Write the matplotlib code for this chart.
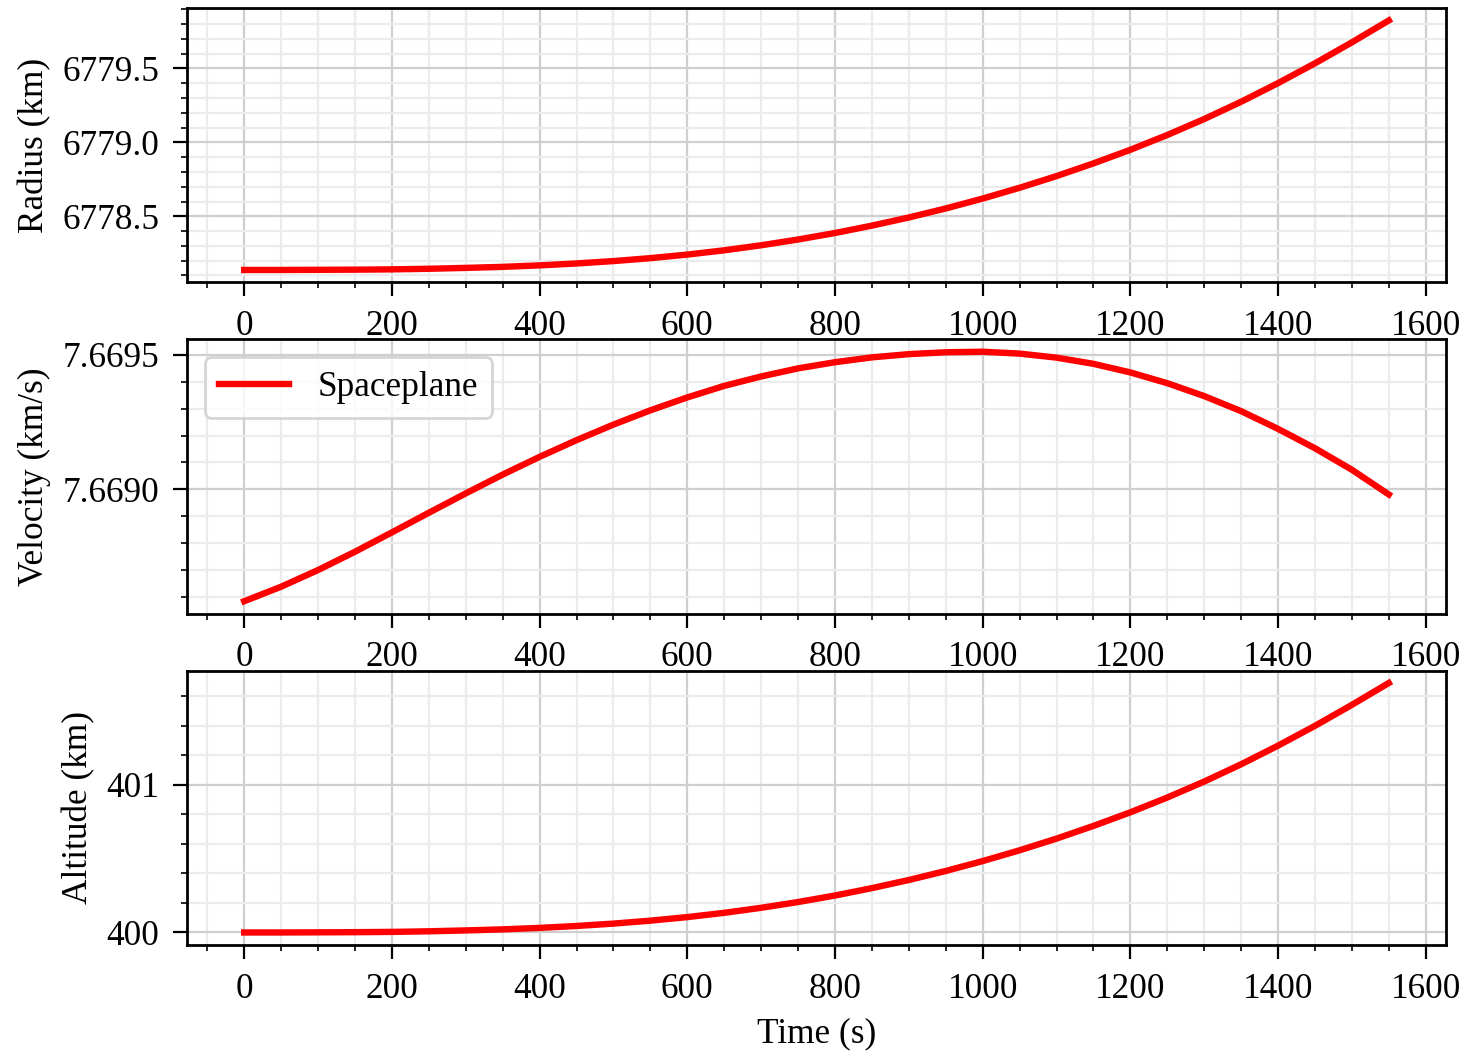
import matplotlib
matplotlib.use("Agg")
import matplotlib.pyplot as plt
from matplotlib.ticker import MultipleLocator, FormatStrFormatter

plt.rcParams['font.family'] = ['Liberation Serif', 'DejaVu Serif']
plt.rcParams['font.size'] = 12.7
plt.rcParams['xtick.direction'] = 'out'
plt.rcParams['ytick.direction'] = 'out'
plt.rcParams['xtick.major.size'] = 5
plt.rcParams['ytick.major.size'] = 5
plt.rcParams['xtick.major.pad'] = 5
plt.rcParams['ytick.major.pad'] = 5

# ---- data ----
time_s = [0, 50, 100, 150, 200, 250, 300, 350, 400, 450, 500, 550, 600, 650, 700, 750,
          800, 850, 900, 950, 1000, 1050, 1100, 1150, 1200, 1250, 1300, 1350, 1400, 1450,
          1500, 1550]

radius_km = [6778.137, 6778.137, 6778.138, 6778.139, 6778.141, 6778.145, 6778.151, 6778.158,
             6778.168, 6778.181, 6778.197, 6778.217, 6778.241, 6778.270, 6778.304, 6778.343,
             6778.387, 6778.437, 6778.492, 6778.553, 6778.620, 6778.693, 6778.772, 6778.858,
             6778.950, 6779.050, 6779.158, 6779.275, 6779.401, 6779.535, 6779.677, 6779.825]

velocity_kms = [7.668584, 7.668638, 7.668700, 7.668768, 7.668840, 7.668913, 7.668985,
                7.669055, 7.669121, 7.669183, 7.669241, 7.669294, 7.669342, 7.669385,
                7.669420, 7.669450, 7.669473, 7.669491, 7.669503, 7.669510, 7.669512,
                7.669505, 7.669490, 7.669467, 7.669435, 7.669395, 7.669347, 7.669291,
                7.669225, 7.669153, 7.669073, 7.668981]

altitude_km = [400.000, 400.000, 400.001, 400.002, 400.004, 400.008, 400.014, 400.021,
               400.031, 400.044, 400.060, 400.080, 400.104, 400.133, 400.167, 400.206,
               400.250, 400.300, 400.355, 400.416, 400.483, 400.556, 400.635, 400.721,
               400.813, 400.913, 401.021, 401.138, 401.264, 401.398, 401.540, 401.688]

series_label = "Spaceplane"
ylabels = ["Radius (km)", "Velocity (km/s)", "Altitude (km)"]
xlabel = "Time (s)"

# ---- figure ----
fig, axes = plt.subplots(3, 1, figsize=(7.35, 5.255), dpi=200)
fig.subplots_adjust(left=0.1272, right=0.9837, top=0.9924, bottom=0.1009, hspace=0.207)

series = [radius_km, velocity_kms, altitude_km]
y_major = [0.5, 0.0005, 1.0]
y_minor = [0.1, 0.0001, 0.2]
y_fmt = ['%.1f', '%.4f', '%d']

for ax, ys, lab, ymaj, ymin, fmt in zip(axes, series, ylabels, y_major, y_minor, y_fmt):
    ax.plot(time_s, ys, color='red', linewidth=2.3, label=series_label)
    ax.set_ylabel(lab)
    ax.xaxis.set_major_locator(MultipleLocator(200))
    ax.xaxis.set_minor_locator(MultipleLocator(50))
    ax.yaxis.set_major_locator(MultipleLocator(ymaj))
    ax.yaxis.set_minor_locator(MultipleLocator(ymin))
    ax.yaxis.set_major_formatter(FormatStrFormatter(fmt))
    ax.grid(True, which='major', color='#cfcfcf', linewidth=0.8)
    ax.grid(True, which='minor', color='#ececec', linewidth=0.8)
    ax.set_axisbelow(True)
    for sp in ax.spines.values():
        sp.set_linewidth(1.0)
    ax.tick_params(which='both', color='black')

axes[1].legend(loc='upper left')
axes[2].set_xlabel(xlabel)

fig.savefig("out.png", dpi=200)
